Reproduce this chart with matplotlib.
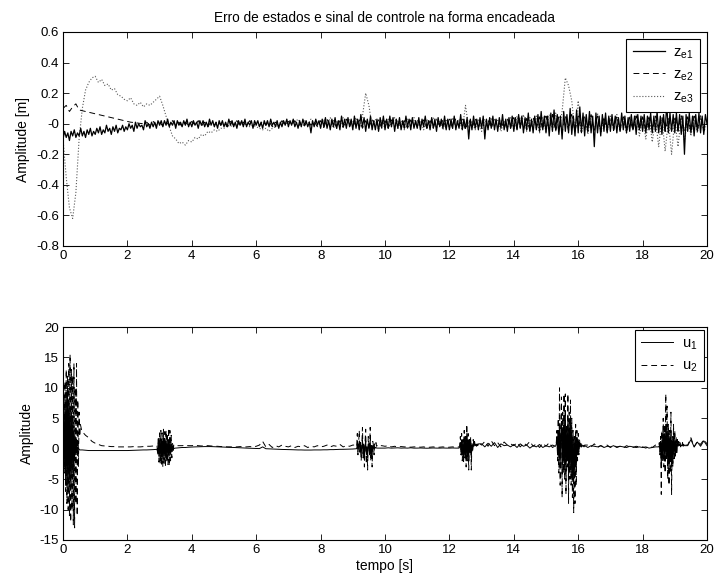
import matplotlib
matplotlib.use("Agg")
import matplotlib.pyplot as plt
import numpy as np

plt.rcParams["font.family"] = ["Liberation Sans", "DejaVu Sans"]
plt.rcParams["mathtext.fontset"] = "custom"
plt.rcParams["mathtext.rm"] = "Liberation Sans"
plt.rcParams["axes.unicode_minus"] = False

# ---- dados ----
T_END = 20.0

# z_e1, passo de 0.05 s (uma linha por segundo)
ze1 = [
    -.10, -.05, -.09, -.06, -.11, -.05, -.08, -.04, -.09, -.06, -.08, -.03, -.08, -.05, -.09, -.04, -.07, -.03, -.08, -.05,
    -.07, -.03, -.06, -.02, -.07, -.04, -.06, -.01, -.05, -.03, -.07, -.02, -.05, -.01, -.06, -.03, -.04, -.01, -.05, -.02,
    -.04, 0, -.03, -.01, -.05, .01, -.03, 0, -.02, -.01, -.04, .02, -.02, 0, -.03, .01, -.02, .01, -.03, .02,
    -.01, .02, -.02, .02, -.01, .03, -.02, .01, -.01, .02, -.03, .02, -.01, .01, -.02, .02, -.01, .03, -.02, .01,
    -.02, .02, -.01, .01, -.03, .02, -.01, .02, -.02, .01, -.02, .03, -.01, .02, -.02, .01, -.03, .02, -.01, .02,
    -.02, .01, -.02, .03, -.01, .02, -.02, .01, -.03, .02, -.01, .02, -.02, .03, -.02, .01, -.01, .02, -.03, .02,
    -.01, .02, -.02, .01, -.03, .02, -.01, .02, -.02, .03, -.01, .01, -.02, .02, -.03, .01, -.02, .02, -.01, .03,
    -.02, .02, -.01, .03, -.02, .01, -.03, .02, -.02, .03, -.01, .02, -.02, .01, -.06, .02, -.02, .03, -.01, .02,
    -.03, .03, -.02, .04, -.03, .02, -.04, .03, -.02, .04, -.03, .02, -.04, .05, -.02, .03, -.03, .04, -.02, .03,
    -.04, .05, -.03, .03, -.04, .06, -.02, .04, -.05, .03, -.03, .05, -.04, .02, -.04, .03, -.05, .04, -.02, .05,
    -.04, .03, -.03, .05, -.02, .04, -.05, .03, -.03, .04, -.04, .02, -.03, .05, -.02, .03, -.04, .04, -.03, .02,
    -.03, .04, -.04, .03, -.02, .05, -.03, .02, -.04, .04, -.03, .03, -.05, .04, -.02, .03, -.03, .05, -.04, .03,
    -.04, .03, -.03, .05, -.04, .02, -.03, .06, -.04, .03, -.03, .04, -.10, .03, -.04, .05, -.03, .03, -.04, .04,
    -.03, .05, -.10, .03, -.04, .04, -.03, .05, -.04, .03, -.05, .04, -.03, .06, -.04, .03, -.05, .04, -.03, .05,
    -.05, .04, -.04, .06, -.03, .05, -.06, .04, -.04, .07, -.05, .03, -.06, .05, -.04, .06, -.05, .08, -.04, .05,
    -.06, .05, -.08, .07, -.05, .09, -.04, .06, -.07, .05, -.10, .08, -.05, .06, -.06, .10, -.07, .05, -.08, .09,
    -.06, .11, -.05, .07, -.08, .06, -.05, .08, -.06, .05, -.15, .07, -.06, .05, -.08, .06, -.05, .07, -.06, .05,
    -.05, .06, -.04, .05, -.06, .04, -.05, .07, -.04, .05, -.06, .04, -.05, .06, -.04, .05, -.07, .06, -.04, .05,
    -.05, .06, -.06, .05, -.04, .07, -.06, .05, -.05, .08, -.06, .05, -.07, .06, -.05, .13, -.06, .07, -.05, .06,
    -.06, .07, -.05, .06, -.07, .05, -.20, .06, -.05, .07, -.06, .05, -.08, .06, -.05, .07, -.06, .05, -.07, .06,
    0,
]

# z_e2, passo de 0.1 s
ze2 = [
    .10, .12, .08, .11, .13, .09, .085, .08, .075, .07,
    .065, .06, .055, .05, .045, .04, .035, .03, .025, .02,
    .015, .01, .008, .005, .002, 0, .01, -.01, .015, -.01,
    .01, -.015, .01, -.01, .02, -.01, .01, -.02, .01, -.01,
    .015, -.01, .02, -.015, .01, -.02, .015, -.01, .02, -.01,
    .01, -.02, .015, -.01, .02, -.015, .01, -.01, .02, -.02,
    .01, -.015, .02, -.01, .015, -.02, .01, -.015, .02, -.01,
    .015, -.01, .02, -.02, .01, -.015, .02, -.01, .015, -.02,
    .02, -.025, .03, -.02, .025, -.03, .02, -.025, .03, -.02,
    .03, -.02, .025, -.03, .02, -.025, .03, -.02, .025, -.03,
    .02, -.03, .025, -.02, .03, -.025, .02, -.03, .025, -.02,
    .03, -.02, .025, -.03, .02, -.025, .03, -.02, .025, -.03,
    .03, -.03, .035, -.025, .03, -.04, .03, -.03, .035, -.025,
    .03, -.035, .025, -.03, .035, -.03, .025, -.035, .03, -.03,
    .04, -.035, .045, -.04, .035, -.045, .04, -.03, .045, -.04,
    .05, -.04, .06, -.05, .045, -.06, .05, -.045, .06, -.05,
    .05, -.06, .045, -.05, .06, -.045, .05, -.055, .045, -.05,
    .04, -.045, .05, -.04, .045, -.05, .04, -.045, .05, -.04,
    .045, -.05, .04, -.045, .05, -.04, .045, -.05, .04, -.045,
    .05, -.045, .055, -.05, .045, -.055, .05, -.045, .055, -.05,
    0,
]

# z_e3, passo de 0.1 s
ze3 = [
    -.10, -.35, -.55, -.62, -.45, -.10, .10, .22, .27, .30,
    .31, .27, .29, .25, .26, .22, .23, .19, .18, .16,
    .15, .17, .13, .12, .14, .11, .13, .12, .14, .16,
    .18, .12, .05, -.02, -.08, -.10, -.13, -.12, -.14, -.11,
    -.12, -.09, -.10, -.07, -.08, -.05, -.06, -.04, -.05, -.03,
    -.03, -.01, -.02, 0, -.01, .01, -.01, 0, -.02, -.01,
    -.02, -.03, -.04, -.03, -.05, -.03, -.02, -.01, 0, .01,
    0, .02, .01, .03, 0, .02, -.01, .03, 0, .02,
    -.02, .03, -.01, .04, -.03, .02, -.02, .04, -.01, .03,
    -.02, .04, -.03, .05, .20, .12, -.02, .03, -.04, .02,
    -.03, .03, -.02, .04, -.03, .02, -.04, .03, -.02, .04,
    -.03, .02, -.04, .03, -.02, .04, -.03, .02, -.04, .03,
    -.03, .04, -.02, .03, -.04, .12, -.03, .02, -.04, .03,
    -.05, .03, -.03, .04, -.02, .03, -.05, .02, -.03, .04,
    -.04, .05, -.03, .06, -.05, .04, -.03, .05, -.06, .04,
    -.05, .06, -.04, .07, -.05, .08, .30, .25, .15, -.05,
    .15, -.06, .05, -.07, .06, -.05, .07, -.06, .04, -.05,
    .05, -.04, .06, -.05, .04, -.06, .05, -.04, .06, -.08,
    .04, -.10, .05, -.12, .03, -.15, .04, -.18, .02, -.20,
    .03, -.15, .05, -.12, .04, -.08, .05, -.06, .04, -.05,
    0,
]

# u1 e u2 fora das rajadas, passo de 0.1 s
u1_calm = [
    0, 0, 0, 0, 0, -.2, -.2, -.25, -.3, -.3,
    -.3, -.3, -.3, -.3, -.3, -.3, -.3, -.3, -.3, -.3,
    -.3, -.28, -.25, -.25, -.22, -.2, -.2, -.18, -.15, -.12,
    -.1, -.1, -.05, 0, .05, .1, .15, .2, .2, .25,
    .28, .3, .32, .33, .35, .35, .35, .33, .32, .3,
    .28, .25, .22, .2, .18, .15, .12, .1, .08, .05,
    .03, .02, .3, 0, -.02, -.05, -.07, -.1, -.12, -.13,
    -.15, -.16, -.18, -.2, -.2, -.22, -.22, -.22, -.2, -.2,
    -.2, -.18, -.18, -.15, -.15, -.12, -.1, -.1, -.08, -.05,
    -.05, 0, 0, 0, 0, 0, 0, 0, .05, .1,
    .1, .15, .1, .12, .15, .1, .12, .1, .15, .1,
    .1, .12, .1, .08, .1, .12, .1, .1, .12, .1,
    .1, .12, .1, .15, .1, .2, .3, .5, .6, .5,
    .8, .3, .9, .4, 1, .2, .8, .5, .6, .3,
    .7, .2, .8, .4, .6, .1, .5, .3, .7, .2,
    .5, .3, .6, .4, .5, .3, .6, .2, .5, .4,
    .7, .3, .6, .2, .5, .4, .3, .5, .2, .4,
    .3, .5, .2, .4, .3, .2, .4, .3, .2, .3,
    .2, .3, .1, .2, .3, .1, .3, .2, .5, .4,
    .3, .8, .2, 1.2, .5, 1.5, .3, 1.1, .4, 1.3,
    .5,
]
u2_calm = [
    0, 0, 0, 0, 0, 0, 2.8, 2.2, 1.8, 1.2,
    .9, .7, .5, .45, .4, .35, .35, .3, .3, .3,
    .3, .3, .35, .3, .3, .35, .4, .4, .45, .5,
    .5, .5, .5, .5, .5, .6, .5, .5, .55, .5,
    .5, .55, .5, .45, .5, .5, .45, .4, .4, .35,
    .35, .3, .3, .3, .3, .35, .3, .3, .35, .3,
    .4, .6, 1.2, .3, .7, .2, .5, .3, .6, .4,
    .3, .5, .2, .4, .3, .5, .2, .4, .3, .5,
    .3, .4, .6, .3, .5, .4, .7, .3, .5, .4,
    .6, .3, .8, .5, .6, .4, .5, .3, .6, .5,
    .4, .5, .3, .4, .3, .35, .3, .3, .25, .3,
    .3, .25, .3, .2, .25, .3, .2, .25, .3, .2,
    .25, .3, .2, .4, .5, .6, .8, 1, .6, 1.5,
    .6, 1.2, .4, 1.3, .5, 1, .3, 1.1, .6, .8,
    .5, 1, .3, .9, .6, 1.2, .4, .8, .2, .9,
    .4, 1, .2, 1.3, .5, .8, .6, 1.2, .4, .8,
    .4, .9, .2, .6, .3, .8, .2, .5, .3, .6,
    .2, .5, .3, .4, .1, .5, .3, .2, .4, .3,
    .3, .1, .4, .2, .6, .3, .8, .5, .6, 1,
    .5, 1.2, .4, 1.5, .6, 1.8, .3, 1.2, .7, 1.5,
    .8,
]

# rajadas (passo de 0.02 s): janelas de tempo e valores
burst_windows = [(0.0, 0.6), (2.9, 3.5), (9.1, 9.8), (12.3, 12.9),
                 (15.3, 16.2), (18.5, 19.3)]
u1_bursts = [
    [0, 5, -3, 8, -5, 9, -6, 10, -7, 8, -5, 7, -6, 6, -4, 5, -4, 3, -2, 2,
     -1, 1, -.5, .3, 0, -.1, -.2, -.2, -.2, -.2, -.2],
    [-.1, -.1, -.6, 1, -1.2, 1.4, -1.5, 1.6, -1.4, 1.2, -1.6, 1.5, -1.2, 1.4,
     -1.5, 1.3, -1, 1.2, -1.3, 1.5, -1.2, 1.1, -.8, .8, -.5, .4, -.2, .1, .05,
     .1, .1],
    [0, 0, .8, -.5, .3, 1.2, -.6, .4, -1, .3, 1.5, -.8, .3, -1.2, .5, 1.3, -1,
     .2, -1.5, .8, .3, -.5, 1.4, -.8, .2, -1.1, .5, .2, -.3, .3, .1, .2, .1,
     .1, .1, .1],
    [.1, .3, 1, -.5, 1.5, -1, 1, -1.8, 2, -1, 1.5, -2, 2.5, -1.2, 1.5, -2, 1,
     -.5, 1.2, -1.5, .6, -.2, .8, .4, .9, .5, .7, .4, .6, .5, .8],
    [.4, .8, 2, -1, 3, -2, 4, -3, 2, 4.5, -4, 3.5, -2, 5, -3, 6, -4.5, 3, -2,
     5, -5, 4, -3, 4.5, -4, 3, -5, 2, -5.5, 1.5, -4, 2.5, -3, 1.5, -1, 1.5,
     -.5, 1, .3, .8, .3, .6, .4, .5, .3, .5],
    [.3, .5, -.5, 1.2, -3, 1.5, -1, 3, -1.5, 2.5, -2, 4, -1, 3.5, -2.5, 2.5,
     -3, 1.8, -2, 3, -3, 1.2, -1.5, 2, -1, 1.5, -.8, 1.2, -.4, 1, .4, .8, .5,
     .8, .3, .6, .5, .8, .4, .7, .5],
]
u2_bursts = [
    [0, 8, -4, 11, -7, 13, -9, 12, -10, 14, -11, 15.5, -12, 13, -10, 12,
     -12.5, 14, -13, 10, -9, 14, -11, 8, -3, 6, 2, 4, 3.5, 3, 2.8],
    [.5, .5, -1, 2, -2.2, 2.6, -2.5, 3, -2.8, 2.6, -3, 3.2, -2.4, 2.8, -3, 3,
     -2.2, 2.5, -2.6, 3.4, -2.8, 3, -2, 2.2, -1.5, 1, -.5, .6, .5, .5, .5],
    [.6, .4, 2.5, -1, .8, 3, -.5, 1, -2, .5, 3.5, -1.5, .8, -3, 1, 3.2, -2.5,
     .4, -3.5, 2, .8, -1, 3.5, -2, .5, -3, 1.2, .6, -1, .8, .5, 1, .4, .6, .5,
     .5],
    [.3, .5, 2, -1, 2.5, -2, 1.5, -2.5, 3, -1.5, 2, -3, 4, -2, 2.5, -3.5, 1.5,
     -1, 2, -3.5, 1, -.5, 1.5, .5, 1.2, .6, 1, .5, .8, .6, 1],
    [.5, 1, 3, -2, 5, -4, 10, -6, 3, 8.5, -8, 6, -4, 9, -5, 9, -7.5, 4, -3, 9,
     -9, 6, -5, 8, -6, 5, -8, 3, -10.5, 2, -9, 4, -6, 3, -2, 2.5, -1, 1.5, .5,
     1, .3, .8, .5, .6, .4, .6],
    [.5, 1, -1, 2, -7.5, 3, -2, 5, -3, 4, -4, 9, -2, 7, -5, 4, -6, 3, -4, 6,
     -7.5, 2, -3, 4, -2, 3, -1.5, 2, -1, 1.5, .5, 1.2, .6, 1, .4, .8, .6, 1,
     .5, .9, .6],
]


def merge_bursts(calm, bursts):
    """Junta a série de passo largo com as rajadas de passo fino."""
    t = np.linspace(0, T_END, len(calm))
    y = np.asarray(calm, dtype=float)
    keep = np.ones(len(t), dtype=bool)
    for (t0, t1) in burst_windows:
        keep &= ~((t >= t0) & (t <= t1))
    ts, ys = [t[keep]], [y[keep]]
    for (t0, t1), vals in zip(burst_windows, bursts):
        ts.append(np.linspace(t0, t1, len(vals)))
        ys.append(np.asarray(vals, dtype=float))
    t_all = np.concatenate(ts)
    y_all = np.concatenate(ys)
    order = np.argsort(t_all, kind="stable")
    return t_all[order], y_all[order]


def style_axes(ax):
    ax.tick_params(direction="in", top=True, right=True, length=4,
                   width=0.6, labelsize=9.5, pad=3)
    for spine in ax.spines.values():
        spine.set_linewidth(0.8)


def add_legend(ax, pad):
    handles, labels = ax.get_legend_handles_labels()
    leg = ax.legend(handles[::-1], labels[::-1], loc="upper right",
                    fontsize=10.5, fancybox=False, framealpha=1,
                    edgecolor="black", handlelength=2.2, handletextpad=0.6,
                    borderaxespad=pad, labelspacing=0.45, borderpad=0.45)
    leg.get_frame().set_linewidth(0.8)


fig = plt.figure(figsize=(7.16, 5.84), dpi=100)
ax_top = fig.add_axes([63 / 716, 1 - 246 / 584, 644 / 716, 214 / 584])
ax_bot = fig.add_axes([63 / 716, 1 - 540 / 584, 644 / 716, 213 / 584])

lw = 0.7
ax_top.plot(np.linspace(0, T_END, len(ze3)), ze3, linestyle=":",
            color="0.35", lw=0.8, label=r"$\mathrm{z}_{\mathrm{e3}}$")
ax_top.plot(np.linspace(0, T_END, len(ze2)), ze2, linestyle=(0, (6, 4)),
            color="black", lw=lw, label=r"$\mathrm{z}_{\mathrm{e2}}$")
ax_top.plot(np.linspace(0, T_END, len(ze1)), ze1, linestyle="-",
            color="black", lw=0.9, label=r"$\mathrm{z}_{\mathrm{e1}}$")
add_legend(ax_top, 0.45)
ax_top.set_xlim(0, 20)
ax_top.set_ylim(-0.8, 0.6)
ax_top.set_xticks(np.arange(0, 21, 2))
yt = np.round(np.arange(-0.8, 0.61, 0.2), 1)
ax_top.set_yticks(yt)
ax_top.set_yticklabels([f"{v:g}" for v in yt])
ax_top.set_ylabel("Amplitude [m]", fontsize=10)
ax_top.set_title("Erro de estados e sinal de controle na forma encadeada",
                 fontsize=9.8, pad=7)
style_axes(ax_top)

t_u1, y_u1 = merge_bursts(u1_calm, u1_bursts)
t_u2, y_u2 = merge_bursts(u2_calm, u2_bursts)
ax_bot.plot(t_u2, y_u2, linestyle=(0, (6, 4)), color="black", lw=lw,
            label=r"$\mathrm{u}_{\mathrm{2}}$")
ax_bot.plot(t_u1, y_u1, linestyle="-", color="black", lw=lw,
            label=r"$\mathrm{u}_{\mathrm{1}}$")
add_legend(ax_bot, 0.2)
ax_bot.set_xlim(0, 20)
ax_bot.set_ylim(-15, 20)
ax_bot.set_xticks(np.arange(0, 21, 2))
ax_bot.set_yticks(np.arange(-15, 21, 5))
ax_bot.set_ylabel("Amplitude", fontsize=10)
ax_bot.set_xlabel("tempo [s]", fontsize=10, labelpad=2)
style_axes(ax_bot)

fig.savefig("out.png", dpi=100)
